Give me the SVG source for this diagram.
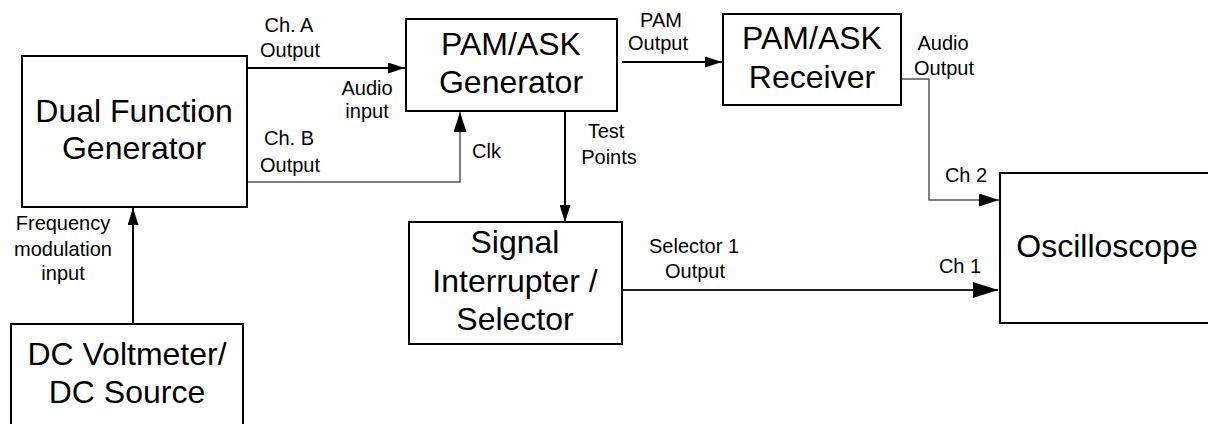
<svg xmlns="http://www.w3.org/2000/svg" width="1208" height="424" viewBox="0 0 1208 424">
<defs>
<style>
.box{fill:#fff;stroke:#000;stroke-width:2}
.big{font-family:"Liberation Sans",Arial,sans-serif;font-size:32px;fill:#000;text-anchor:middle}
.lbl{font-family:"Liberation Sans",Arial,sans-serif;font-size:20px;fill:#000;text-anchor:middle}
.w{fill:none;stroke:#000;stroke-width:2}
.g{fill:none;stroke:#555;stroke-width:1.5}
.d{fill:none;stroke:#222;stroke-width:2}
</style>
<marker id="as" markerUnits="userSpaceOnUse" markerWidth="17" markerHeight="11" refX="17" refY="5.5" orient="auto"><path d="M0,0 L17,5.5 L0,11 Z" fill="#000"/></marker>
<marker id="am" markerUnits="userSpaceOnUse" markerWidth="20" markerHeight="13" refX="20" refY="6.5" orient="auto"><path d="M0,0 L20,6.5 L0,13 Z" fill="#000"/></marker>
<marker id="al" markerUnits="userSpaceOnUse" markerWidth="25" markerHeight="16" refX="25" refY="8" orient="auto"><path d="M0,0 L25,8 L0,16 Z" fill="#000"/></marker>
</defs>
<g id="connectors">
<path class="w" d="M247,68 H405" marker-end="url(#as)"/>
<path class="g" d="M247,182 H460 V112" marker-end="url(#am)"/>
<path class="w" d="M565,111 V222" marker-end="url(#as)"/>
<path class="w" d="M622,62 H722" marker-end="url(#as)"/>
<path class="g" d="M901,79 H929 V200 H999" marker-end="url(#am)"/>
<path class="d" d="M622,290 H998" marker-end="url(#al)"/>
<path class="w" d="M133,324 V208" marker-end="url(#as)"/>
</g>
<g id="labels">
<text class="lbl" x="289" y="32">Ch. A</text>
<text class="lbl" x="290" y="57">Output</text>
<text class="lbl" x="367" y="95">Audio</text>
<text class="lbl" x="367" y="118">input</text>
<text class="lbl" x="289" y="145">Ch. B</text>
<text class="lbl" x="290" y="172">Output</text>
<text class="lbl" x="661" y="27">PAM</text>
<text class="lbl" x="658" y="50">Output</text>
<text class="lbl" x="472" y="158" text-anchor="start" style="text-anchor:start">Clk</text>
<text class="lbl" x="606" y="138">Test</text>
<text class="lbl" x="609" y="164">Points</text>
<text class="lbl" x="943" y="50">Audio</text>
<text class="lbl" x="944" y="75">Output</text>
<text class="lbl" x="966" y="182">Ch 2</text>
<text class="lbl" x="960" y="273">Ch 1</text>
<text class="lbl" x="694" y="253">Selector 1</text>
<text class="lbl" x="695" y="278">Output</text>
<text class="lbl" x="63" y="230">Frequency</text>
<text class="lbl" x="63" y="256">modulation</text>
<text class="lbl" x="63" y="280">input</text>
</g>
<g id="dual-function-generator">
<rect class="box" x="22" y="56" width="225" height="151"/>
<text class="big" x="134" y="122">Dual Function</text>
<text class="big" x="134" y="159">Generator</text>
</g>
<g id="pam-ask-generator">
<rect class="box" x="406" y="19" width="211" height="92"/>
<text class="big" x="511" y="55">PAM/ASK</text>
<text class="big" x="511" y="93">Generator</text>
</g>
<g id="pam-ask-receiver">
<rect class="box" x="723" y="14" width="178" height="91"/>
<text class="big" x="812" y="49">PAM/ASK</text>
<text class="big" x="812" y="88">Receiver</text>
</g>
<g id="signal-interrupter-selector">
<rect class="box" x="409" y="222" width="213" height="122"/>
<text class="big" x="515" y="253">Signal</text>
<text class="big" x="515" y="292">Interrupter /</text>
<text class="big" x="515" y="330">Selector</text>
</g>
<g id="oscilloscope">
<rect class="box" x="1000" y="173" width="230" height="150"/>
<text class="big" x="1107" y="257">Oscilloscope</text>
</g>
<g id="dc-voltmeter-source">
<rect class="box" x="11" y="324" width="232" height="120"/>
<text class="big" x="127" y="365">DC Voltmeter/</text>
<text class="big" x="127" y="403">DC Source</text>
</g>
</svg>
